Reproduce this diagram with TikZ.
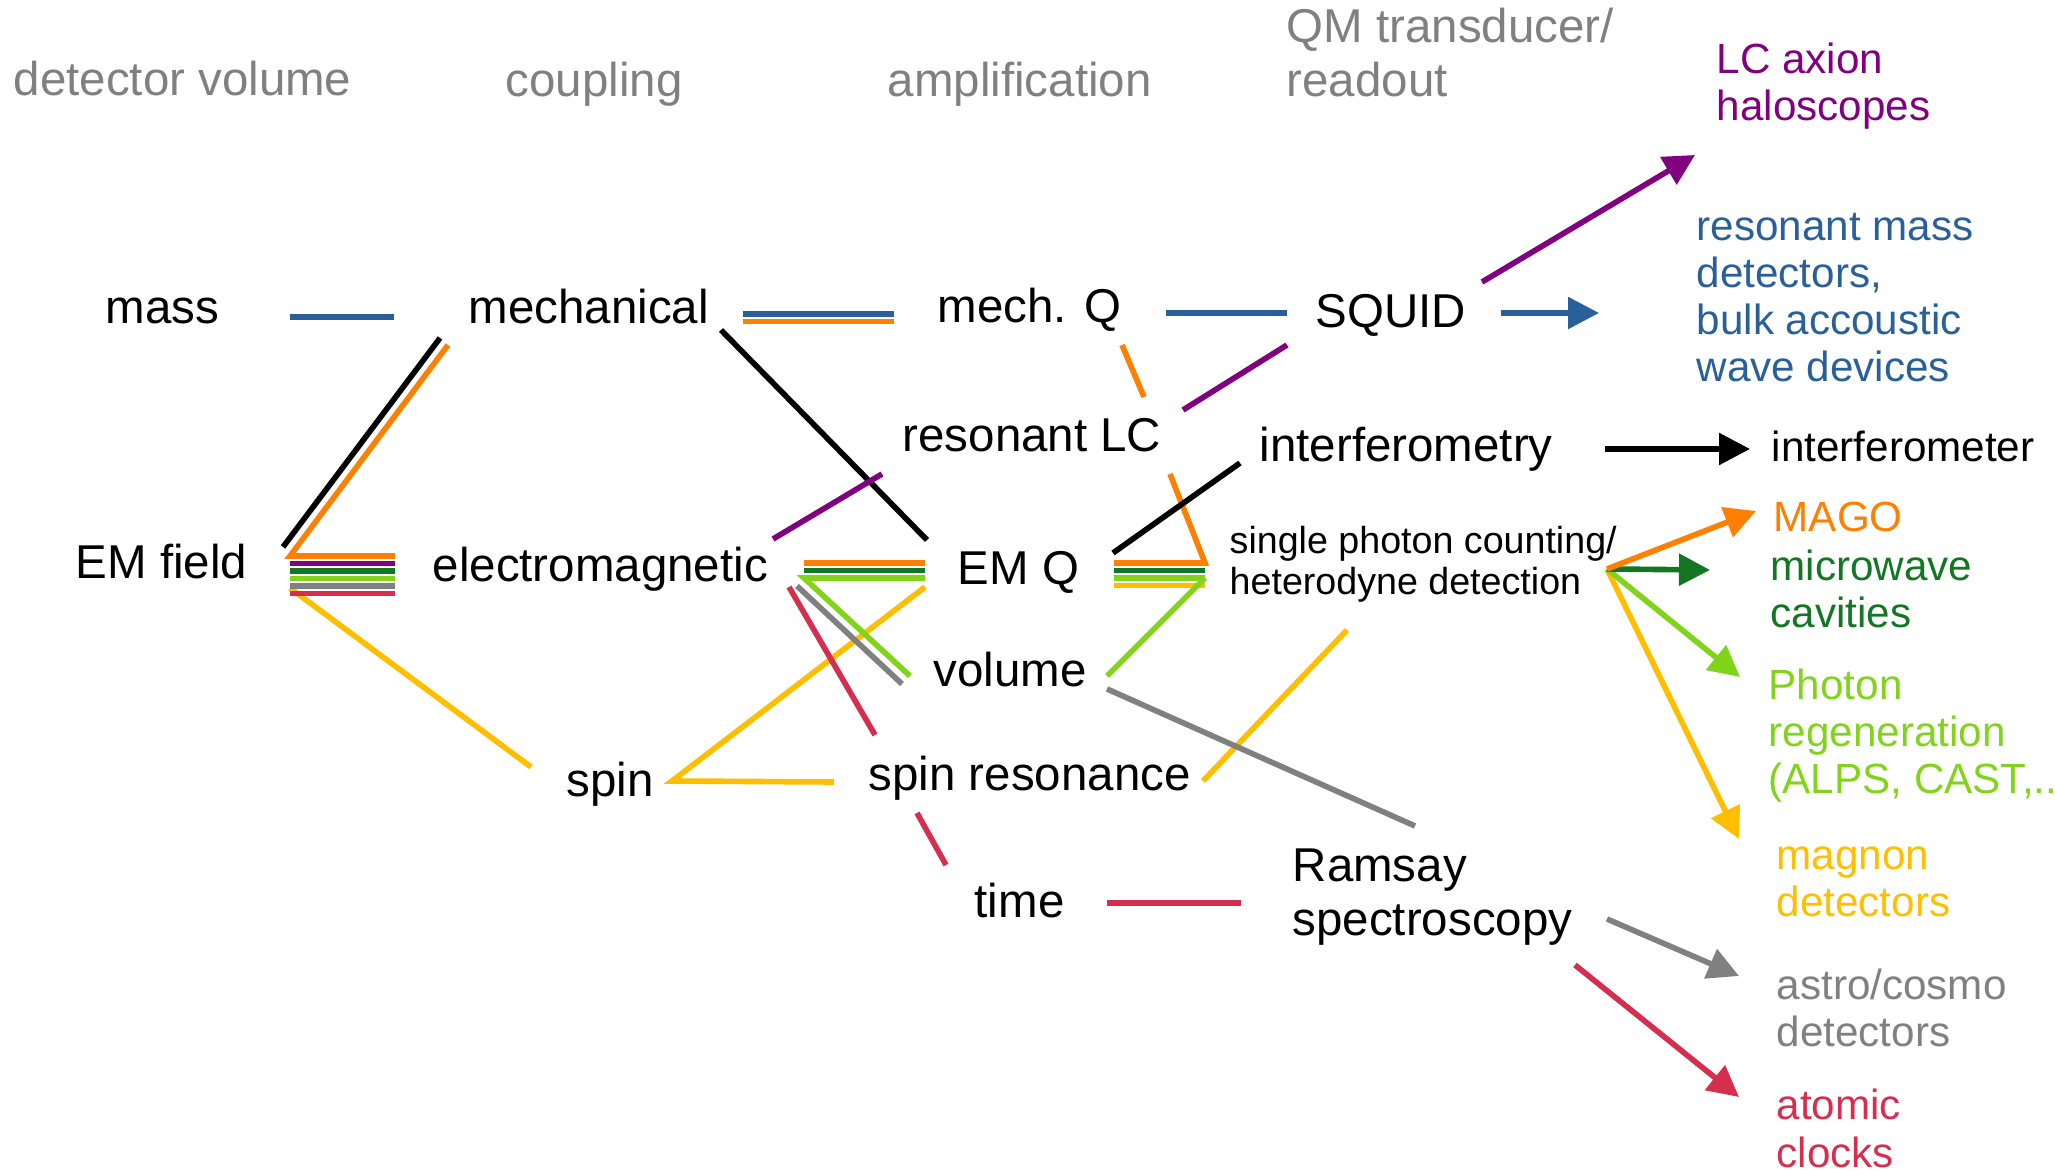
\documentclass[tikz,border=0pt]{standalone}
\usepackage{fontspec}
\setmainfont{Liberation Sans}
\usepackage{xcolor}
\usetikzlibrary{arrows.meta}
\definecolor{vorange}{HTML}{FF8000}
\definecolor{vpurple}{HTML}{800080}
\definecolor{vdgreen}{HTML}{127622}
\definecolor{vlgreen}{HTML}{81D41A}
\definecolor{vgray}{HTML}{808080}
\definecolor{vred}{HTML}{D62E4E}
\definecolor{vyellow}{HTML}{FFBF00}
\definecolor{vblue}{HTML}{2A6099}
\tikzset{
	txt/.style={anchor=base west, inner sep=0pt, align=left, font=\fontsize{13.5}{15.6}\selectfont},
	head/.style={txt, color=vgray},
	expt/.style={txt, font=\fontsize{12}{13.45}\selectfont},
	link/.style={line width=1.6pt},
	arr/.style={link, -{Triangle[length=0.31cm, width=0.31cm]}},
}
\begin{document}
\begin{tikzpicture}[x=0.01cm, y=-0.01cm]
		\useasboundingbox (0,0) rectangle (2055,1171);
		% column heads (multi-line nodes sit on their last line)
		\node[head] (hvol) at (13,96) {detector volume};
		\node[head] (hcoup) at (505,97) {coupling};
		\node[head] (hamp) at (887,97) {amplification};
		\node[head] (hqm) at (1286,97) {QM transducer/\\readout};
		% chain nodes
		\node[txt] (mass) at (105,324) {mass};
		\node[txt] (mech) at (468,324) {mechanical};
		\node[txt] (mechq) at (937,323) {mech. Q};
		\node[txt] (squid) at (1315,328) {SQUID};
		\node[txt] (reslc) at (902,452) {resonant LC};
		\node[txt] (interf) at (1259,462) {interferometry};
		\node[txt] (emfield) at (75,579) {EM field};
		\node[txt] (em) at (432,582) {electromagnetic};
		\node[txt] (emq) at (957,585) {EM Q};
		\node[txt, font=\fontsize{10.7}{11.9}\selectfont] (spc) at (1229,595) {single photon counting/\\heterodyne detection};
		\node[txt] (volume) at (933,687) {volume};
		\node[txt] (spin) at (566,797) {spin};
		\node[txt] (spinres) at (868,791) {spin resonance};
		\node[txt] (time) at (974,918) {time};
		\node[txt] (ramsay) at (1292,936) {Ramsay\\spectroscopy};
		% experiments
		\node[expt, color=vpurple] (lcax) at (1716,121) {LC axion\\haloscopes};
		\node[expt, color=vblue] (resmass) at (1696,382) {resonant mass\\detectors,\\bulk accoustic\\wave devices};
		\node[expt] (ifm) at (1771,462) {interferometer};
		\node[expt, color=vorange] (mago) at (1773,532) {MAGO};
		\node[expt, color=vdgreen] (mwc) at (1770,628) {microwave\\cavities};
		\node[expt, color=vlgreen] (regen) at (1768,794) {Photon\\regeneration\\(ALPS, CAST,...};
		\node[expt, color=vyellow] (magnon) at (1776,917) {magnon\\detectors};
		\node[expt, color=vgray] (astro) at (1776,1047) {astro/cosmo\\detectors};
		\node[expt, color=vred] (clocks) at (1776,1167) {atomic\\clocks};
		% end points of the links
		\coordinate (massR) at (290,317);
		\coordinate (mechL) at (394,317);
		\coordinate (mechBa) at (440,338);
		\coordinate (mechBb) at (448,345);
		\coordinate (fieldA) at (283,547);
		\coordinate (fieldL) at (290,556);
		\coordinate (fieldR) at (395,556);
		\coordinate (fieldY) at (290,588);
		\coordinate (spinL) at (531,767);
		\coordinate (mechR) at (743,314);
		\coordinate (mechqL) at (894,314);
		\coordinate (mechqR) at (1166,313);
		\coordinate (squidL) at (1287,313);
		\coordinate (squidR) at (1501,313);
		\coordinate (resmassL) at (1599,313);
		\coordinate (squidT) at (1482,282);
		\coordinate (lcaxL) at (1695,155);
		\coordinate (squidB) at (1287,345);
		\coordinate (lcT) at (1183,410);
		\coordinate (mechqB) at (1122,345);
		\coordinate (lcO) at (1144,397);
		\coordinate (lcB) at (1170,474);
		\coordinate (emqR) at (1205,563);
		\coordinate (emqRi) at (1114,563);
		\coordinate (emqG) at (1205,578);
		\coordinate (volR) at (1107,676);
		\coordinate (mechD) at (721,330);
		\coordinate (emqT) at (927,540);
		\coordinate (emT) at (773,539);
		\coordinate (lcL) at (882,474);
		\coordinate (emqE) at (1113,553);
		\coordinate (interfL) at (1240,463);
		\coordinate (interfR) at (1605,449);
		\coordinate (ifmL) at (1750,449);
		\coordinate (emR) at (804,563);
		\coordinate (emqL) at (925,563);
		\coordinate (volG) at (910,676);
		\coordinate (emGa) at (797,586);
		\coordinate (volA) at (902,684);
		\coordinate (emRd) at (789,587);
		\coordinate (srT) at (875,735);
		\coordinate (srB) at (917,813);
		\coordinate (timeT) at (946,865);
		\coordinate (emqY) at (925,587);
		\coordinate (spinR) at (672,781);
		\coordinate (srL) at (834,782);
		\coordinate (srR) at (1203,781);
		\coordinate (spcB) at (1347,630);
		\coordinate (spcP) at (1607,569);
		\coordinate (magoL) at (1756,511);
		\coordinate (mwcL) at (1710,570);
		\coordinate (regenL) at (1740,677);
		\coordinate (magnonL) at (1739,839);
		\coordinate (volB) at (1107,689);
		\coordinate (ramsT) at (1415,826);
		\coordinate (ramsR) at (1607,919);
		\coordinate (astroL) at (1739,976);
		\coordinate (ramsD) at (1575,965);
		\coordinate (clocksL) at (1739,1097);
		\coordinate (timeR) at (1107,903);
		\coordinate (ramsL) at (1241,903);
		% detector volume to coupling
		\draw[link, vyellow] (fieldY) -- (spinL);
		\draw[link, vblue] (massR) -- (mechL);
		\draw[link] (mechBa) -- (fieldA);
		\foreach \c [count=\i from 0] in {vorange,vpurple,vdgreen,vlgreen,vgray,vred}
			\draw[link, \c] ([yshift={-\i*0.075cm}]fieldL) -- ([yshift={-\i*0.075cm}]fieldR);
		\draw[link, vorange] (mechBb) -- (fieldL) -- (fieldR);
		% coupling to amplification
		\foreach \c [count=\i from 0] in {vblue,vorange}
			\draw[link, \c] ([yshift={-\i*0.075cm}]mechR) -- ([yshift={-\i*0.075cm}]mechqL);
		\draw[link] (mechD) -- (emqT);
		\draw[link, vpurple] (emT) -- (lcL);
		\draw[link, vyellow] (emqY) -- (spinR) -- (srL);
		\draw[link, vred] (emRd) -- (srT);
		\draw[link, vred] (srB) -- (timeT);
		\draw[link, vgray] (emGa) -- (volA);
		\foreach \c [count=\i from 0] in {vorange,vdgreen,vlgreen}
			\draw[link, \c] ([yshift={-\i*0.075cm}]emR) -- ([yshift={-\i*0.075cm}]emqL);
		\draw[link, vlgreen] ([yshift=-0.15cm]emqL) -- ([yshift=-0.15cm]emR) -- (volG);
		% amplification to readout
		\draw[link, vblue] (mechqR) -- (squidL);
		\draw[link, vpurple] (squidB) -- (lcT);
		\draw[link, vorange] (mechqB) -- (lcO);
		\foreach \c [count=\i from 0] in {vorange,vdgreen,vlgreen,vyellow}
			\draw[link, \c] ([yshift={-\i*0.075cm}]emqRi) -- ([yshift={-\i*0.075cm}]emqR);
		\draw[link, vorange] (lcB) -- (emqR) -- (emqRi);
		\draw[link, vlgreen] (emqG) -- (volR);
		\draw[link] (emqE) -- (interfL);
		\draw[link, vyellow] (srR) -- (spcB);
		\draw[link, vgray] (volB) -- (ramsT);
		\draw[link, vred] (timeR) -- (ramsL);
		% readout to experiments
		\draw[arr, vpurple] (squidT) -- (lcaxL);
		\draw[arr, vblue] (squidR) -- (resmassL);
		\draw[arr] (interfR) -- (ifmL);
		\draw[arr, vyellow] (spcP) -- (magnonL);
		\draw[arr, vlgreen] (spcP) -- (regenL);
		\draw[arr, vdgreen] (spcP) -- (mwcL);
		\draw[arr, vorange] (spcP) -- (magoL);
		\draw[arr, vgray] (ramsR) -- (astroL);
		\draw[arr, vred] (ramsD) -- (clocksL);
	\end{tikzpicture}
\end{document}
